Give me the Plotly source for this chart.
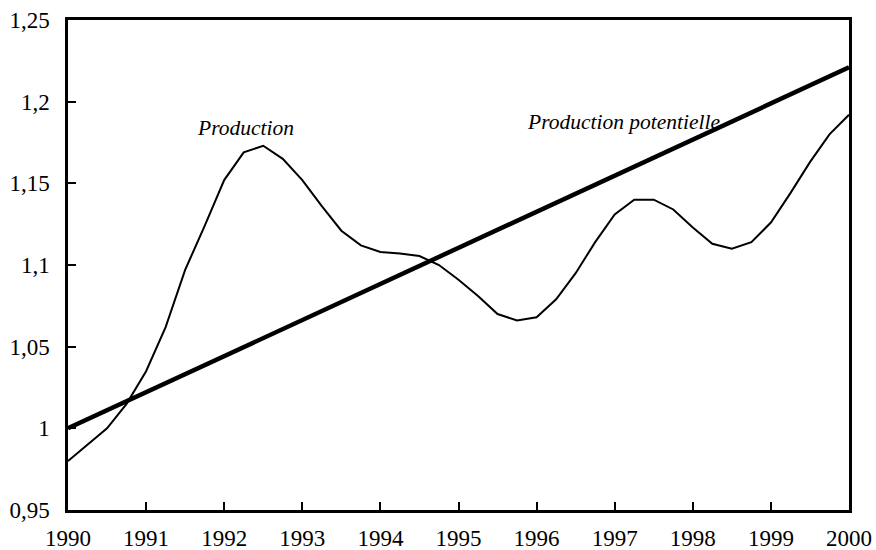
import plotly.graph_objects as go

# Quarterly dates 1990 -> 2000
quarters = [1990 + 0.25 * i for i in range(41)]

production = [
    0.980, 0.990, 1.000, 1.015,   # 1990
    1.035, 1.062, 1.097, 1.124,   # 1991
    1.152, 1.169, 1.173, 1.165,   # 1992
    1.152, 1.136, 1.121, 1.112,   # 1993
    1.108, 1.107, 1.1055, 1.100,  # 1994
    1.091, 1.081, 1.070, 1.066,   # 1995
    1.068, 1.079, 1.095, 1.114,   # 1996
    1.131, 1.140, 1.140, 1.134,   # 1997
    1.123, 1.113, 1.110, 1.114,   # 1998
    1.126, 1.144, 1.163, 1.180,   # 1999
    1.192,                        # 2000
]

potential_x = [1990, 2000]
potential_y = [1.000, 1.221]

x_ticks = list(range(1990, 2001))
x_ticklabels = [str(v) for v in x_ticks]
y_ticks = [0.95, 1.0, 1.05, 1.1, 1.15, 1.2, 1.25]
y_ticklabels = ["0,95", "1", "1,05", "1,1", "1,15", "1,2", "1,25"]

FONT = "Liberation Serif"

fig = go.Figure()
fig.add_trace(go.Scatter(
    x=potential_x, y=potential_y, mode="lines",
    line=dict(color="black", width=4.5), name="Production potentielle",
))
fig.add_trace(go.Scatter(
    x=quarters, y=production, mode="lines",
    line=dict(color="black", width=2), name="Production",
))

fig.add_annotation(x=1992.27, y=1.1838, text="<i>Production</i>", showarrow=False,
                   font=dict(family=FONT, size=21.5, color="black"))
fig.add_annotation(x=1997.12, y=1.1875, text="<i>Production potentielle</i>", showarrow=False,
                   font=dict(family=FONT, size=21.5, color="black"))

fig.update_layout(
    width=876, height=550,
    margin=dict(l=68, r=27, t=20, b=40, autoexpand=False),
    plot_bgcolor="white", paper_bgcolor="white",
    showlegend=False,
    font=dict(family=FONT, size=23, color="black"),
    xaxis=dict(
        range=[1990, 2000], tickvals=x_ticks, ticktext=x_ticklabels,
        showgrid=False, zeroline=False, automargin=False,
        showline=True, linecolor="black", linewidth=2.5, mirror=True,
        ticks="inside", ticklen=8, tickwidth=2, tickcolor="black",
        ticklabelstandoff=6, ticklabeloverflow="allow",
        tickfont=dict(family=FONT, size=23, color="black"),
    ),
    yaxis=dict(
        range=[0.95, 1.25], tickvals=y_ticks, ticktext=y_ticklabels,
        showgrid=False, zeroline=False, automargin=False,
        showline=True, linecolor="black", linewidth=2.5, mirror=True,
        ticks="inside", ticklen=8, tickwidth=2, tickcolor="black",
        ticklabelstandoff=11, ticklabeloverflow="allow",
        tickfont=dict(family=FONT, size=23, color="black"),
    ),
)

# remove the default 8px page margin so the 876x550 figure fills the window exactly
fig.write_html(
    "out.html",
    config={"displayModeBar": False},
    post_script="document.body.style.margin='0';document.body.style.overflow='hidden';",
)
